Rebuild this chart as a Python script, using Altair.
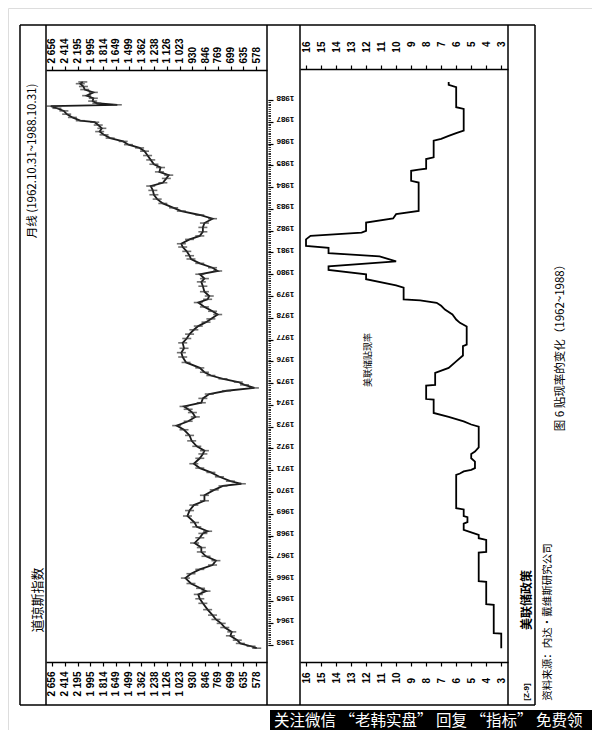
import altair as alt
import pandas as pd

# ---------------- data ----------------
# Dow Jones Industrial Average, monthly line (year fraction, index value)
dow_t = [1962.83, 1962.92, 1963.05, 1963.20, 1963.40, 1963.58, 1963.78, 1963.97, 1964.15, 1964.35,
         1964.60, 1964.89, 1965.10, 1965.30, 1965.45, 1965.58, 1965.80, 1966.05, 1966.25, 1966.45,
         1966.65, 1966.85, 1967.05, 1967.25, 1967.45, 1967.66, 1967.90, 1968.10, 1968.20, 1968.40,
         1968.60, 1968.90, 1969.15, 1969.40, 1969.60, 1969.85, 1970.10, 1970.28, 1970.38, 1970.50,
         1970.70, 1970.90, 1971.10, 1971.30, 1971.55, 1971.75, 1971.90, 1972.10, 1972.35, 1972.60,
         1972.86, 1973.05, 1973.25, 1973.45, 1973.65, 1973.80, 1973.93, 1974.10, 1974.30, 1974.50,
         1974.65, 1974.78, 1974.92, 1975.05, 1975.20, 1975.35, 1975.50, 1975.70, 1975.95, 1976.20,
         1976.40, 1976.60, 1976.85, 1977.05, 1977.25, 1977.45, 1977.62, 1977.80, 1977.95, 1978.15,
         1978.30, 1978.50, 1978.70, 1978.85, 1979.00, 1979.20, 1979.45, 1979.65, 1979.80, 1980.00,
         1980.15, 1980.30, 1980.50, 1980.70, 1980.85, 1981.05, 1981.25, 1981.40, 1981.60, 1981.76,
         1981.95, 1982.15, 1982.35, 1982.55, 1982.72, 1982.90, 1983.05, 1983.25, 1983.45, 1983.65,
         1983.85, 1984.05, 1984.20, 1984.40, 1984.55, 1984.70, 1984.90, 1985.05, 1985.25, 1985.45,
         1985.65, 1985.80, 1985.95, 1986.10, 1986.25, 1986.40, 1986.55, 1986.70, 1986.85, 1986.98,
         1987.05, 1987.20, 1987.35, 1987.50, 1987.62, 1987.72, 1987.78, 1987.85, 1987.95, 1988.08,
         1988.20, 1988.35, 1988.48, 1988.62, 1988.75, 1988.83]
dow_v = [575, 600, 650, 665, 700, 693, 730, 750, 780, 800,
         830, 860, 880, 890, 840, 875, 940, 980, 940, 880,
         800, 780, 840, 870, 870, 915, 880, 860, 830, 900,
         915, 965, 950, 920, 850, 850, 790, 740, 645, 700,
         760, 810, 880, 920, 880, 860, 850, 900, 935, 950,
         990, 1046, 960, 910, 930, 960, 990, 870, 860, 820,
         720, 585, 630, 660, 740, 810, 850, 880, 975, 1000,
         1010, 990, 1000, 970, 950, 920, 890, 840, 810, 770,
         800, 850, 890, 830, 820, 850, 860, 870, 850, 880,
         770, 800, 880, 940, 950, 970, 1000, 1010, 950, 880,
         860, 860, 850, 800, 880, 1010, 1070, 1160, 1210, 1240,
         1250, 1270, 1160, 1130, 1110, 1190, 1180, 1240, 1270, 1300,
         1330, 1380, 1500, 1560, 1720, 1800, 1860, 1830, 1880, 1930,
         2150, 2280, 2380, 2430, 2560, 2680, 1630, 1900, 1960, 1950,
         2050, 1950, 2080, 2100, 2150, 2110]

# Federal Reserve discount rate (%), vertices of the step line
rate_t = [1962.83, 1963.50, 1963.52, 1964.82, 1964.85, 1965.88, 1965.91, 1967.22, 1967.25, 1967.80,
          1967.88, 1968.03, 1968.15, 1968.26, 1968.55, 1968.62, 1968.85, 1968.90, 1969.20, 1969.26,
          1970.79, 1970.85, 1970.95, 1971.02, 1971.10, 1971.40, 1971.55, 1971.75, 1971.86, 1972.05,
          1973.00, 1973.10, 1973.24, 1973.45, 1973.63, 1974.24, 1974.27, 1974.89, 1974.92, 1975.47,
          1975.70, 1976.00, 1976.27, 1976.70, 1976.77, 1977.60, 1977.77, 1977.92, 1978.15, 1978.38,
          1978.55, 1978.69, 1978.80, 1978.84, 1979.38, 1979.49, 1979.77, 1980.00, 1980.20, 1980.36,
          1980.59, 1980.82, 1980.97, 1981.21, 1981.30, 1981.60, 1981.76, 1981.91, 1981.99, 1982.37,
          1982.56, 1982.76, 1982.91, 1984.21, 1984.29, 1984.75, 1984.80, 1984.85, 1985.29, 1985.37,
          1986.13, 1986.22, 1986.35, 1986.48, 1986.60, 1987.59, 1987.67, 1988.59, 1988.70, 1988.83]
rate_v = [3.0, 3.0, 3.5, 3.5, 4.0, 4.0, 4.5, 4.5, 4.0, 4.0,
          4.5, 4.5, 5.0, 5.5, 5.5, 5.25, 5.25, 5.5, 5.5, 6.0,
          6.0, 5.75, 5.5, 5.0, 4.75, 4.75, 5.0, 5.0, 4.75, 4.5,
          4.5, 5.0, 5.5, 6.5, 7.5, 7.5, 8.0, 8.0, 7.4, 7.4,
          6.5, 6.0, 5.55, 5.55, 5.3, 5.3, 5.75, 6.0, 6.25, 6.75,
          7.0, 7.3, 8.4, 9.5, 9.5, 10.0, 12.0, 12.0, 14.5, 14.5,
          10.0, 11.1, 14.5, 14.5, 16.0, 16.0, 15.7, 12.3, 12.0, 12.0,
          10.2, 10.0, 8.5, 8.5, 9.0, 9.0, 8.5, 8.0, 8.0, 7.5,
          7.5, 7.0, 6.5, 6.0, 5.5, 5.5, 6.0, 6.0, 6.5, 6.5]

dow_ticks = [2656, 2414, 2195, 1995, 1814, 1649, 1499, 1362, 1238, 1126,
             1023, 930, 846, 769, 699, 635, 578]
rate_ticks = [16, 15, 14, 13, 12, 11, 10, 9, 8, 7, 6, 5, 4, 3]
year_ticks = list(range(1963, 1989))
month_ticks = [1962 + m / 12 for m in range(9, 27 * 12 + 1)]

# ---------------- layout (picture pixels -> plot pixels) ----------------
W, H = 584, 722


def X(px):
    return px - 8


def Y(py):
    return py - 8


dow = pd.DataFrame({"t": dow_t, "v": dow_v})
rate = pd.DataFrame({"t": rate_t, "r": rate_v, "i": list(range(len(rate_t)))})
one = pd.DataFrame({"k": [0]})

time_scale = alt.Scale(domain=[1963, 1988], range=[Y(644.5), Y(100)], nice=False, zero=False)
dow_scale = alt.Scale(type="log", domain=[532.5, 2777.8], range=[X(267), X(46)], nice=False)
rate_scale = alt.Scale(domain=[2.55, 16.4], range=[X(508), X(300)], nice=False, zero=False)

common = dict(grid=False, title=None, labelOverlap=False, labelFlush=False,
              labelFont="Liberation Sans", labelFontWeight="bold", labelColor="black",
              tickColor="black", domainColor="black", domainWidth=1.5, tickWidth=1.2)

dow_label = "replace(format(datum.value, ','), ',', ' ')"

dow_top = alt.Axis(orient="top", offset=-Y(70), values=dow_ticks, labelExpr=dow_label,
                   labelAngle=270, labelAlign="left", labelBaseline="middle",
                   tickSize=4, labelPadding=3, labelFontSize=10, **common)
dow_bottom = alt.Axis(orient="bottom", offset=-(H - Y(662)), values=dow_ticks, labelExpr=dow_label,
                      labelAngle=270, labelAlign="right", labelBaseline="middle",
                      tickSize=4, labelPadding=5, labelFontSize=10, **common)
rate_top = alt.Axis(orient="top", offset=-Y(69), values=rate_ticks, format="d",
                    labelAngle=270, labelAlign="right", labelBaseline="middle",
                    tickSize=4, labelPadding=24, labelFontSize=10, **common)
rate_bottom = alt.Axis(orient="bottom", offset=-(H - Y(662)), values=rate_ticks, format="d",
                       labelAngle=270, labelAlign="left", labelBaseline="middle",
                       tickSize=4, labelPadding=17, labelFontSize=10, **common)
year_axis = alt.Axis(orient="right", offset=-(W - X(268)), values=year_ticks, format="d",
                     labelAngle=180, labelAlign="right", labelBaseline="middle",
                     tickSize=5, labelPadding=3, labelFontSize=8, labelOffset=-3,
                     domain=False, grid=False, title=None, labelOverlap=False, labelFlush=False,
                     labelFont="Liberation Sans", labelFontWeight="bold", labelColor="black",
                     tickColor="black", tickWidth=1.2)
month_axis = alt.Axis(orient="right", offset=-(W - X(268)), values=month_ticks, labels=False,
                      tickSize=2.5, domain=False, grid=False, title=None, tickColor="black",
                      tickWidth=0.8)

# ---------------- marks ----------------
dow_line = alt.Chart(dow).mark_line(color="#1a1a1a", strokeWidth=1.8).encode(
    x=alt.X("v:Q", scale=dow_scale, axis=dow_top),
    y=alt.Y("t:Q", scale=time_scale, axis=None),
    order=alt.Order("t:Q"),
)
dow_bars = alt.Chart(dow).mark_tick(orient="horizontal", color="#333333", size=9,
                                    thickness=1.6).encode(
    x=alt.X("v:Q", scale=dow_scale, axis=dow_bottom),
    y=alt.Y("t:Q", scale=time_scale, axis=None),
)
rate_line = alt.Chart(rate).mark_line(color="black", strokeWidth=1.8).encode(
    x=alt.X("r:Q", scale=rate_scale, axis=rate_top),
    y=alt.Y("t:Q", scale=time_scale, axis=None),
    order=alt.Order("i:Q"),
)
rate_axis2 = alt.Chart(rate).mark_point(opacity=0, size=0).encode(
    x=alt.X("r:Q", scale=rate_scale, axis=rate_bottom),
    y=alt.Y("t:Q", scale=time_scale, axis=None),
)
years = alt.Chart(pd.DataFrame({"t": year_ticks})).mark_point(opacity=0, size=0).encode(
    y=alt.Y("t:Q", scale=time_scale, axis=year_axis),
)
months = alt.Chart(pd.DataFrame({"t": year_ticks})).mark_point(opacity=0, size=0).encode(
    y=alt.Y("t:Q", scale=time_scale, axis=month_axis),
)


def seg(x1, y1, x2, y2, w=1.5):
    return alt.Chart(one).mark_rule(color="black", strokeWidth=w).encode(
        x=alt.value(X(x1)), y=alt.value(Y(y1)), x2=alt.value(X(x2)), y2=alt.value(Y(y2)))


def txt(s, x, y, size, angle=270, weight="normal", font="Noto Sans CJK SC",
        color="black", align="center"):
    return alt.Chart(one).mark_text(text=s, angle=angle, fontSize=size, fontWeight=weight,
                                    font=font, color=color, align=align,
                                    baseline="middle").encode(
        x=alt.value(X(x)), y=alt.value(Y(y)))


frame = [
    seg(20, 25, 535, 25), seg(20, 705, 535, 705),
    seg(20, 25, 20, 705), seg(535, 25, 535, 705),
    seg(46, 25, 46, 705), seg(267, 25, 267, 705),
    seg(300, 25, 300, 705), seg(508, 25, 508, 705),
]

texts = [
    txt("月线 (1962.10.31~1988.10.31)", 33, 161, 11.5),
    txt("道琼斯指数", 38, 600, 13),
    txt("美联储贴现率", 368, 360, 9),
    txt("美联储政策", 527, 600, 12, weight="bold"),
    txt("[Z-9]", 527, 692, 8, weight="bold", font="Liberation Sans"),
    txt("资料来源：内达·戴维斯研究公司", 548, 622, 10.5),
    txt("图 6    贴现率的变化（1962~1988）", 561, 345, 11.5),
]

band = alt.Chart(one).mark_rect(color="black").encode(
    x=alt.value(X(270)), x2=alt.value(X(600)), y=alt.value(Y(710)), y2=alt.value(Y(740)))
band_text = txt("关注微信 “老韩实盘” 回复 “指标” 免费领", 274, 721, 15.5, angle=0,
                color="white", align="left")

chart = alt.layer(
    *frame, dow_line, dow_bars, rate_line, rate_axis2, years, months,
    *texts, band, band_text,
).resolve_scale(x="independent", y="independent").properties(
    width=W, height=H, padding=0, autosize=alt.AutoSizeParams(type="none"),
).configure_view(stroke=None).configure(background="white")

chart.save("out.html", embed_options={"renderer": "svg", "actions": False})
